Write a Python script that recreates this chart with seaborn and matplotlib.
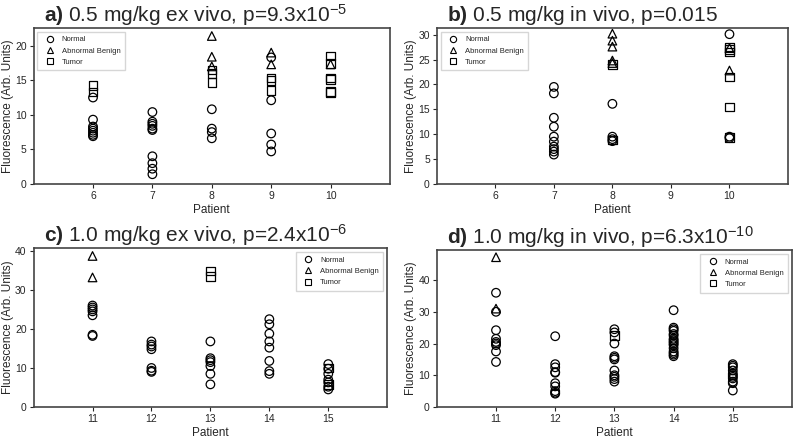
import numpy as np
import pandas as pd
import matplotlib
matplotlib.use("Agg")
import matplotlib.pyplot as plt
from matplotlib.lines import Line2D
import seaborn as sns

# values, one dict per panel and tissue type: patient -> values
a_normal = {6: [12.5, 9.3, 8.3, 8.0, 7.7, 7.4, 7.1, 6.9],
            7: [10.4, 9.0, 8.7, 8.4, 8.0, 7.8, 4.0, 3.0, 2.2, 1.4],
            8: [10.8, 8.0, 7.5, 6.6],
            9: [18.3, 12.1, 7.3, 5.7, 4.7]}
a_benign = {8: [21.4, 18.4, 17.0], 9: [19.0, 17.3], 10: [17.3]}
a_tumor = {6: [14.2, 13.3], 8: [16.5, 16.0, 14.7], 9: [15.3, 15.0, 13.5],
           10: [18.5, 17.4, 15.3, 15.1, 13.4, 13.2]}

b_normal = {7: [19.5, 18.2, 13.3, 11.5, 9.5, 8.5, 7.5, 7.0, 6.5, 5.9],
            8: [16.1, 9.5, 9.0, 8.6],
            10: [30.1, 9.5, 9.2]}
b_benign = {8: [30.2, 28.8, 27.6, 24.8, 24.3], 10: [27.3, 22.8]}
b_tumor = {8: [24.0, 8.8], 10: [27.5, 27.0, 26.5, 21.5, 15.5, 9.3]}

c_normal = {11: [26.0, 25.5, 25.0, 24.5, 23.5, 18.5, 18.2],
            12: [16.8, 16.0, 15.5, 14.8, 10.0, 9.3, 9.0],
            13: [16.8, 12.5, 12.0, 11.5, 10.5, 8.5, 5.8],
            14: [22.5, 21.2, 18.8, 16.8, 15.2, 11.8, 9.2, 8.5],
            15: [11.0, 9.8, 8.5, 7.0, 6.3, 5.2, 4.5]}
c_benign = {11: [38.7, 33.2]}
c_tumor = {13: [34.8, 33.5], 15: [10.0, 5.8]}

d_normal = {11: [36.0, 30.0, 24.2, 21.5, 20.5, 20.0, 19.5, 17.5, 14.2],
            12: [22.3, 13.5, 12.5, 11.0, 10.8, 7.5, 6.5, 5.0, 4.5, 4.2],
            13: [24.5, 23.5, 20.0, 16.0, 15.5, 15.0, 11.5, 10.0, 9.5, 8.8, 8.0],
            14: [30.5, 25.0, 24.5, 24.0, 23.0, 22.5, 21.5, 21.0, 20.5, 20.0,
                 19.5, 18.5, 17.5, 17.0, 16.5, 16.0],
            15: [13.5, 13.0, 12.5, 11.5, 10.5, 10.0, 9.5, 9.0, 8.0, 7.5, 5.2]}
d_benign = {11: [47.2, 31.0]}
d_tumor = {13: [22.5]}

titles = [r"$\mathbf{a)}$ 0.5 mg/kg ex vivo, p=9.3x10$^{-5}$",
          r"$\mathbf{b)}$ 0.5 mg/kg in vivo, p=0.015",
          r"$\mathbf{c)}$ 1.0 mg/kg ex vivo, p=2.4x10$^{-6}$",
          r"$\mathbf{d)}$ 1.0 mg/kg in vivo, p=6.3x10$^{-10}$"]
tissue_labels = ["Normal", "Abnormal Benign", "Tumor"]
markers = {"Normal": "o", "Abnormal Benign": "^", "Tumor": "s"}


def _to_frame(normal, benign, tumor):
    rows = []
    for name, d in zip(tissue_labels, [normal, benign, tumor]):
        for pat, vals in d.items():
            for v in vals:
                rows.append((pat, v, name))
    return pd.DataFrame(rows, columns=["Patient", "Fluorescence", "Tissue"])


sns.set_style("white")
plt.rcParams["font.family"] = ["Liberation Sans", "DejaVu Sans"]
plt.rcParams["mathtext.fontset"] = "custom"
plt.rcParams["mathtext.rm"] = "Liberation Sans"
plt.rcParams["mathtext.it"] = "Liberation Sans:italic"
plt.rcParams["mathtext.bf"] = "Liberation Sans:bold"

fig = plt.figure(figsize=(8, 4.4), dpi=100)
boxes = [[0.042, 0.582, 0.4455, 0.355],
         [0.546, 0.582, 0.439, 0.355],
         [0.042, 0.075, 0.442, 0.361],
         [0.546, 0.075, 0.444, 0.357]]
frames = [_to_frame(a_normal, a_benign, a_tumor),
          _to_frame(b_normal, b_benign, b_tumor),
          _to_frame(c_normal, c_benign, c_tumor),
          _to_frame(d_normal, d_benign, d_tumor)]
xlims = [(5, 11), (5, 11), (10, 16), (10, 16)]
xticks = [[6, 7, 8, 9, 10], [6, 7, 8, 9, 10], [11, 12, 13, 14, 15], [11, 12, 13, 14, 15]]
ylims = [(0, 22.6), (0, 31.4), (0, 40.7), (0, 49.5)]
yticks = [[0, 5, 10, 15, 20], [0, 5, 10, 15, 20, 25, 30], [0, 10, 20, 30, 40], [0, 10, 20, 30, 40]]
legend_loc = ["upper left", "upper left", "upper right", "upper right"]

for i in range(4):
    ax = fig.add_axes(boxes[i])
    sns.scatterplot(data=frames[i], x="Patient", y="Fluorescence", style="Tissue",
                    markers=markers, style_order=tissue_labels, facecolor="none",
                    edgecolor="black", color="black", linewidth=0.9, s=38,
                    legend=False, ax=ax)
    ax.set_xlim(*xlims[i])
    ax.set_ylim(*ylims[i])
    ax.set_xticks(xticks[i])
    ax.set_yticks(yticks[i])
    ax.tick_params(axis="both", labelsize=7.5, length=3, width=0.8, direction="out",
                   bottom=True, left=True, pad=2)
    ax.set_xlabel("Patient", fontsize=8.5, labelpad=2)
    ax.set_ylabel("Fluorescence (Arb. Units)", fontsize=8.5, labelpad=1)
    for sp in ax.spines.values():
        sp.set_color("#444444")
        sp.set_linewidth(1.2)
    ax.text(0.03, 1.04, titles[i], transform=ax.transAxes, fontsize=15,
            ha="left", va="baseline")
    handles = [Line2D([], [], linestyle="", marker=markers[t], markerfacecolor="none",
                      markeredgecolor="black", markersize=4.5, markeredgewidth=0.8,
                      label=t) for t in tissue_labels]
    ax.legend(handles=handles, loc=legend_loc[i], fontsize=5.5, frameon=True,
              borderpad=0.6, labelspacing=0.5, handletextpad=0.6, fancybox=False,
              edgecolor="#cccccc")

fig.savefig("out.png", dpi=100)
